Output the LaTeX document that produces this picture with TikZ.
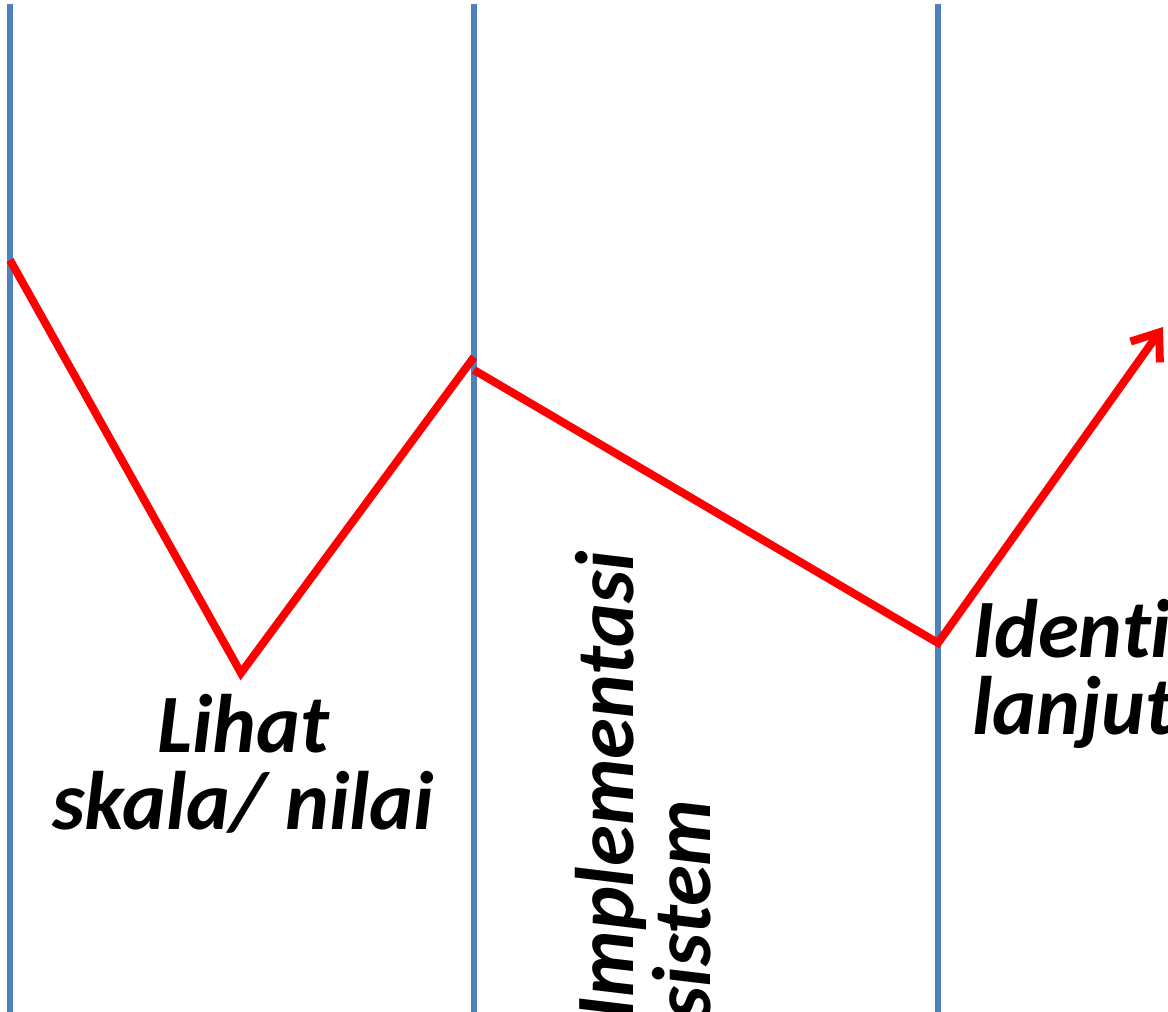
\documentclass[tikz,border=0pt]{standalone}
\usepackage{fontspec}
\setmainfont[Ligatures={NoCommon}]{Carlito}
\usetikzlibrary{arrows.meta}
\definecolor{garisbiru}{HTML}{4F81BD}
\definecolor{garismerah}{HTML}{FF0000}
\begin{document}
\begin{tikzpicture}[x=1pt,y=-1pt,line join=miter,
	batas/.style={draw=garisbiru,line width=6pt},
	alur/.style={draw=garismerah,line width=8pt},
	label/.style={inner sep=0pt,font=\fontsize{83}{77}\selectfont\bfseries\itshape}]
\useasboundingbox (0,0) rectangle (1168,1012);
\clip (0,0) rectangle (1168,1012);
	% batas tahap
	\foreach \x/\n in {10/a,474/b,938/c}
		\draw[batas] (\x,4) coordinate (top\n) -- (\x,1020) coordinate (bot\n);
	% titik alur
	\coordinate (p1) at (10,260);
	\coordinate (p2) at (241,673);
	\coordinate (p3) at (474,357);
	\coordinate (q1) at (474,370);
	\coordinate (q2) at (938,643);
	\coordinate (q3) at (1163,327);
	\draw[alur] (p1)--(p2)--(p3);
	\draw[alur,-{Straight Barb[length=24pt,width=36pt]}] (q1)--(q2)--(q3);
	% teks (anchor base = baris terakhir)
	\node[label,align=center,anchor=base] (lihat) at (243,829) {Lihat\\skala/ nilai};
	\node[label,align=left,anchor=base west,rotate=90] (impl) at (710,1020) {Implementasi\\sistem};
	\node[label,align=left,anchor=base west] (ident) at (972,734) {Identifikasi\\lanjutan};
\end{tikzpicture}
\end{document}
